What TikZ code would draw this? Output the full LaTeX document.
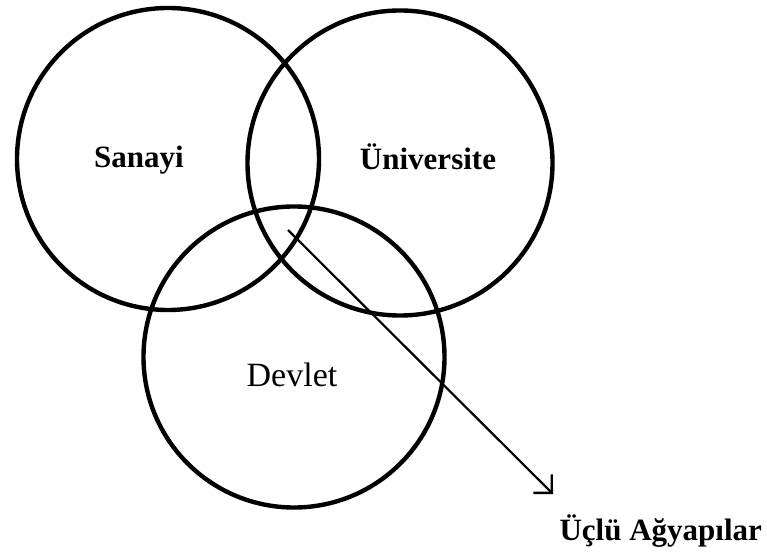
\documentclass[tikz,border=0pt]{standalone}
\usepackage{fontspec}
\setmainfont{Liberation Serif}
\usetikzlibrary{arrows.meta}
\begin{document}
\begin{tikzpicture}[x=1pt,y=-1pt,
  ring/.style={draw=black,line width=4.4pt,circle,inner sep=0pt},
  lbl/.style={font=\fontsize{31}{33}\selectfont\bfseries,anchor=base},
  pointer/.style={line width=2.2pt,-{Straight Barb[length=13pt,width=26pt,line width=2.4pt]}}]
\useasboundingbox (0,0) rectangle (767,553);
\node[ring,minimum size=302pt] (san) at (168,159) {};
\node[ring,minimum size=305pt] (uni) at (400,163) {};
\node[ring,minimum size=301pt] (dev) at (294,357) {};
\node[lbl] (tsan) at (139,168) {Sanayi};
\node[lbl] (tuni) at (428,170) {Üniversite};
\node[lbl,font=\fontsize{34}{36}\selectfont] (tdev) at (292,386) {Devlet};
\node[lbl,anchor=base west] (tucl) at (556,540) {Üçlü Ağyapılar};
\coordinate (start) at (288,230);
\coordinate (tip) at (553,494);
\draw[pointer] (start) -- (tip);
\end{tikzpicture}
\end{document}
